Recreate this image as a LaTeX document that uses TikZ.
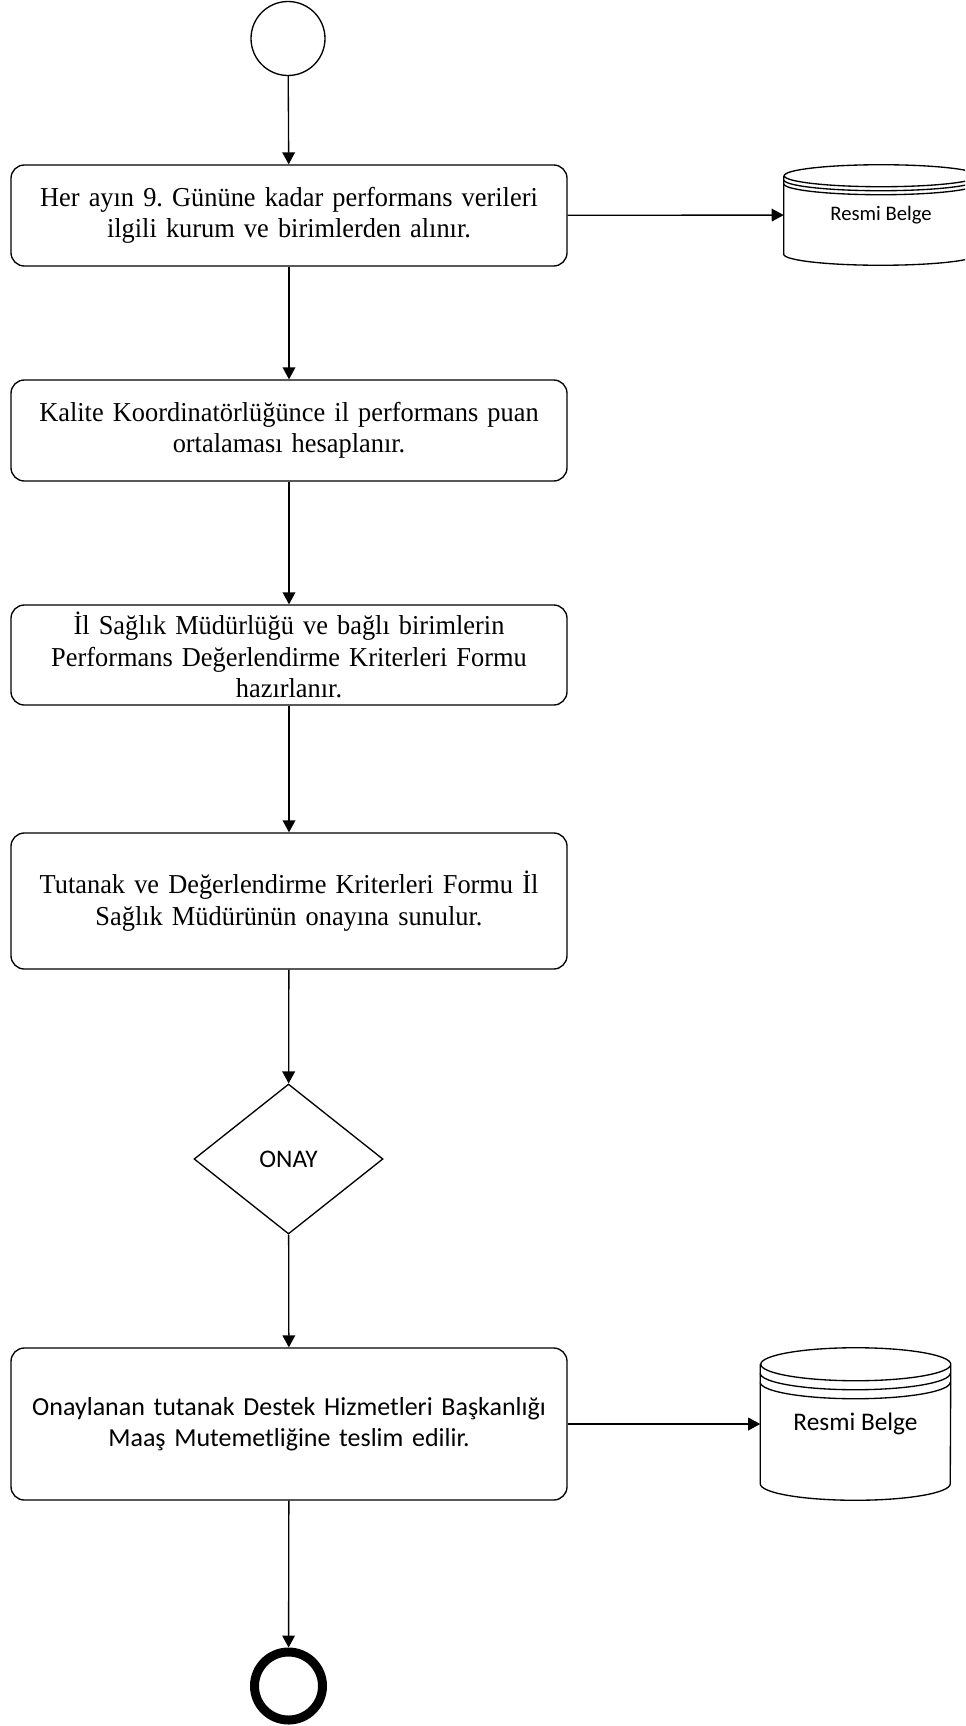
\documentclass[tikz,border=0pt]{standalone}
\usepackage{fontspec}
\setmainfont{Liberation Serif}[WordSpace=0.6, FakeStretch=0.965]
\newfontfamily\calibri{Carlito}
\usetikzlibrary{arrows.meta,shapes.geometric}
\frenchspacing
\tikzset{
	%Define standard arrow tip
	>={Triangle[length=9pt,width=9.5pt]},
	%Define style for boxes
	kutu/.style={
		rectangle,
		rounded corners=10pt,
		draw=black, line width=1pt,
		minimum width=417pt,
		minimum height=75.75pt,
		text width=405pt,
		align=center,
		font=\fontsize{20.5}{23.5}\selectfont},
	% decision
	karar/.style={
		diamond,
		draw=black, line width=1pt,
		inner sep=0pt,
		minimum width=141.75pt,
		minimum height=112.5pt,
		font=\calibri\fontsize{19}{23}\selectfont},
	% document store (outline drawn by \silindir)
	belge/.style={
		rectangle,
		inner sep=0pt,
		minimum width=142.5pt,
		minimum height=114pt,
		font=\calibri\fontsize{19}{23}\selectfont},
	basla/.style={circle, draw=black, line width=1pt, minimum size=55.5pt},
	bitir/.style={circle, draw=black, line width=6.75pt, minimum size=51pt},
	% Define arrow style
	ok/.style={
		->,
		line width=1pt}
}
% cylinder outline: node, x radius, y radius, rim gap (px)
\newcommand{\silindir}[4]{%
	\draw[line width=1pt] ([yshift=-#3*0.75pt]#1.north west) -- ([yshift=#3*0.75pt]#1.south west)
		arc[start angle=180, end angle=360, x radius=#2*0.75pt, y radius=#3*0.75pt]
		-- ([yshift=-#3*0.75pt]#1.north east)
		arc[start angle=0, end angle=360, x radius=#2*0.75pt, y radius=#3*0.75pt];
	\foreach \k in {1,2}
		\draw[line width=1pt] ([yshift=-#3*0.75pt-\k*#4*0.75pt]#1.north west)
			arc[start angle=180, end angle=360, x radius=#2*0.75pt, y radius=#3*0.75pt];
}

\begin{document}
\begin{tikzpicture}[x=0.75pt, y=0.75pt]
	\useasboundingbox (0,0) rectangle (965,-1726);
	\clip (0,0) rectangle (965,-1726);

	\node[basla] (bas) at (288,-38.5) {};

	\node[kutu] (adim1) at (289,-215.5) {Her ayın 9. Gününe kadar performans verileri\\ ilgili kurum ve birimlerden alınır.};
	\node[belge, minimum width=145.5pt, minimum height=75pt, font=\calibri\fontsize{15.5}{19}\selectfont] (belge1) at (881,-215) {Resmi Belge};
	\silindir{belge1}{97}{11}{4}

	\node[kutu] (adim2) at (289,-430.5) {Kalite Koordinatörlüğünce il performans puan\\ ortalaması hesaplanır.};

	\node[kutu, minimum height=75pt] (adim3) at (289,-655) {İl Sağlık Müdürlüğü ve bağlı birimlerin\\ Performans Değerlendirme Kriterleri Formu\\ hazırlanır.};

	\node[kutu, minimum height=102pt] (adim4) at (289,-901) {Tutanak ve Değerlendirme Kriterleri Formu İl\\ Sağlık Müdürünün onayına sunulur.};

	\node[karar] (onay) at (288.5,-1159) {ONAY};

	\node[kutu, minimum height=114pt, font=\calibri\fontsize{19.5}{23}\selectfont] (adim5) at (289,-1424) {Onaylanan tutanak Destek Hizmetleri Başkanlığı\\ Maaş Mutemetliğine teslim edilir.};
	\node[belge] (belge2) at (855.5,-1424) {Resmi Belge};
	\silindir{belge2}{95}{16.5}{9}

	\node[bitir] (son) at (288.5,-1686) {};

	\path
	(bas) edge[ok] (adim1)
	(adim1) edge[ok] (belge1)
	(adim1) edge[ok] (adim2)
	(adim2) edge[ok] (adim3)
	(adim3) edge[ok] (adim4)
	(adim4) edge[ok] (onay)
	(onay) edge[ok] (adim5)
	(adim5) edge[ok] (belge2)
	(adim5) edge[ok] (son)
	;
\end{tikzpicture}
\end{document}
